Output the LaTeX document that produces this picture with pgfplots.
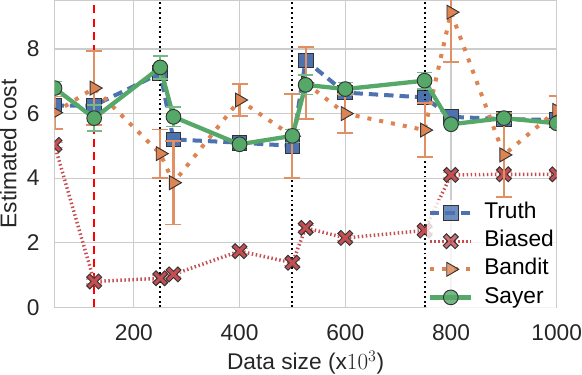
\documentclass[border=0pt]{standalone}
\usepackage{fontspec}
\setmainfont{Liberation Sans}
\usepackage{pgfplots}
\pgfplotsset{compat=1.18}

\definecolor{cblue}{HTML}{4C72B0}
\definecolor{cgreen}{HTML}{55A868}
\definecolor{cred}{HTML}{C44E52}
\definecolor{corange}{HTML}{DD8452}
\definecolor{cgrid}{HTML}{CCCCCC}
\definecolor{cedge}{HTML}{333333}
\definecolor{ctext}{HTML}{262626}

% filled "X" marker like matplotlib
\pgfdeclareplotmark{Xfill}{%
  \pgftransformrotate{45}%
  \pgfpathmoveto{\pgfqpoint{0.33\pgfplotmarksize}{0.33\pgfplotmarksize}}%
  \pgfpathlineto{\pgfqpoint{0.33\pgfplotmarksize}{1.25\pgfplotmarksize}}%
  \pgfpathlineto{\pgfqpoint{-0.33\pgfplotmarksize}{1.25\pgfplotmarksize}}%
  \pgfpathlineto{\pgfqpoint{-0.33\pgfplotmarksize}{0.33\pgfplotmarksize}}%
  \pgfpathlineto{\pgfqpoint{-1.25\pgfplotmarksize}{0.33\pgfplotmarksize}}%
  \pgfpathlineto{\pgfqpoint{-1.25\pgfplotmarksize}{-0.33\pgfplotmarksize}}%
  \pgfpathlineto{\pgfqpoint{-0.33\pgfplotmarksize}{-0.33\pgfplotmarksize}}%
  \pgfpathlineto{\pgfqpoint{-0.33\pgfplotmarksize}{-1.25\pgfplotmarksize}}%
  \pgfpathlineto{\pgfqpoint{0.33\pgfplotmarksize}{-1.25\pgfplotmarksize}}%
  \pgfpathlineto{\pgfqpoint{0.33\pgfplotmarksize}{-0.33\pgfplotmarksize}}%
  \pgfpathlineto{\pgfqpoint{1.25\pgfplotmarksize}{-0.33\pgfplotmarksize}}%
  \pgfpathlineto{\pgfqpoint{1.25\pgfplotmarksize}{0.33\pgfplotmarksize}}%
  \pgfpathclose
  \pgfusepathqfillstroke
}

\begin{document}
\begin{tikzpicture}
\begin{axis}[
    scale only axis,
    width=375.75pt, height=229.5pt,
    xmin=50, xmax=1000, ymin=0, ymax=9.5,
    clip marker paths=true,
    xtick={200,400,600,800,1000},
    ytick={0,2,4,6,8},
    major tick length=0pt,
    grid=major,
    grid style={cgrid, line width=0.9pt},
    axis line style={cgrid, line width=0.9pt},
    /pgf/number format/assume math mode=true,
    /pgf/number format/1000 sep={},
    tick label style={font=\fontsize{17}{20}\selectfont, inner sep=0pt, text=ctext},
    xticklabel style={yshift=-12.5pt},
    yticklabel style={xshift=-11pt},
    label style={font=\fontsize{17}{20}\selectfont, text=ctext, inner sep=0pt},
    xlabel={Data size (x$10^3$)},
    ylabel={Estimated cost},
    xlabel style={at={(axis description cs:0.5,-0.2026)}, anchor=base},
    ylabel style={at={(axis description cs:-0.0758,0.5)}, anchor=base},
    legend style={at={(1,0)}, anchor=south east, yshift=-2.5pt, draw=none, fill=white, fill opacity=0.8, text opacity=1,
      font=\fontsize{17}{20}\selectfont, row sep=3.5pt, inner sep=1pt,
      nodes={text height=12pt, text depth=3.5pt, inner sep=1pt},
      /tikz/every odd column/.style={column sep=7pt}},
    legend cell align=left,
    legend image code/.code={%
      \draw[mark repeat=2, mark phase=2, #1] plot coordinates {(0pt,0pt) (15.5pt,0pt) (31pt,0pt)};},
    error bars/error bar style={solid, line width=1.6pt},
]
% Truth
\addplot[cblue, line width=3pt, dash pattern=on 7pt off 4.5pt,
  mark=square*, mark size=5.5pt, mark options={solid, fill=cblue, draw=cedge, line width=0.7pt}]
  coordinates {(50,6.25) (125,6.25) (250,7.25) (275,5.2) (400,5.1) (500,5.0)
    (525,7.65) (600,6.65) (750,6.5) (800,5.9) (900,5.83) (1000,5.8)};
\addlegendentry{Truth}
% vertical markers
\addplot[forget plot, red, line width=1.6pt, dash pattern=on 6pt off 4pt] coordinates {(125,0) (125,9.5)};
\addplot[forget plot, black, line width=1.4pt, dash pattern=on 1.4pt off 2.2pt] coordinates {(250,0) (250,9.5)};
\addplot[forget plot, black, line width=1.4pt, dash pattern=on 1.4pt off 2.2pt] coordinates {(500,0) (500,9.5)};
\addplot[forget plot, black, line width=1.4pt, dash pattern=on 1.4pt off 2.2pt] coordinates {(750,0) (750,9.5)};
% Biased
\addplot[cred, line width=2.6pt, dash pattern=on 1.1pt off 1.9pt,
  mark=Xfill, mark size=5pt, mark options={solid, fill=cred, draw=cedge, line width=0.7pt},
  error bars/.cd, y dir=both, y explicit,
  error bar style={cred!50}, error mark options={rotate=90, cred!50, mark size=6pt, line width=1.2pt}]
  coordinates {(50,5.03) +- (0,0.08) (125,0.8) +- (0,0.08) (250,0.9) +- (0,0.08) (275,1.02) +- (0,0.08)
    (400,1.74) +- (0,0.08) (500,1.38) +- (0,0.08) (525,2.46) +- (0,0.08) (600,2.15) +- (0,0.08)
    (750,2.38) +- (0,0.08) (800,4.1) +- (0,0.08) (900,4.12) +- (0,0.08) (1000,4.12) +- (0,0.08)};
\addlegendentry{Biased}
% Bandit
\addplot[corange, line width=3pt, dash pattern=on 3pt off 6pt,
  mark=triangle*, mark size=6pt, mark options={solid, fill=corange, draw=cedge, line width=0.7pt, rotate=-90},
  error bars/.cd, y dir=both, y explicit,
  error bar style={corange!90}, error mark options={rotate=90, corange!90, mark size=6pt, line width=1.2pt}]
  coordinates {(50,6.03) +- (0,0.5) (125,6.79) +- (0,1.15) (250,4.76) +- (0,0.75) (275,3.86) +- (0,1.29)
    (400,6.42) +- (0,0.5) (500,5.3) +- (0,1.3) (525,6.95) +- (0,1.12) (600,6.0) +- (0,0.6)
    (750,5.49) +- (0,0.83) (800,9.14) +- (0,1.55) (900,4.72) +- (0,1.3) (1000,6.1) +- (0,0.45)};
\addlegendentry{Bandit}
% Sayer
\addplot[cgreen, line width=3.2pt, solid,
  mark=*, mark size=5.5pt, mark options={solid, fill=cgreen, draw=cedge, line width=0.7pt},
  error bars/.cd, y dir=both, y explicit,
  error bar style={cgreen!80}, error mark options={rotate=90, cgreen!80, mark size=5.5pt, line width=1.2pt}]
  coordinates {(50,6.79) +- (0,0.2) (125,5.86) +- (0,0.4) (250,7.43) +- (0,0.35) (275,5.9) +- (0,0.3)
    (400,5.05) +- (0,0.1) (500,5.31) +- (0,0.2) (525,6.89) +- (0,0.3) (600,6.76) +- (0,0.2)
    (750,7.02) +- (0,0.25) (800,5.67) +- (0,0.1) (900,5.86) +- (0,0.15) (1000,5.7) +- (0,0.1)};
\addlegendentry{Sayer}
\end{axis}
\end{tikzpicture}
\end{document}
